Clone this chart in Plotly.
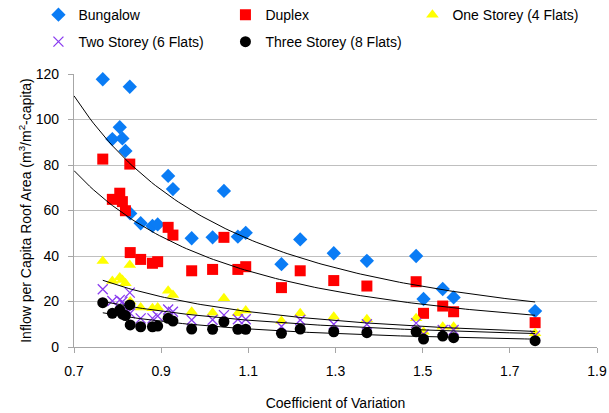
import numpy as np
import plotly.graph_objects as go

# Coefficient of variation for each location
cv = [0.766, 0.788, 0.805, 0.811, 0.818, 0.828, 0.829, 0.853, 0.880, 0.892, 0.916, 0.927, 0.970,
      1.018, 1.044, 1.076, 1.094, 1.176, 1.219, 1.296, 1.372, 1.485, 1.502, 1.546, 1.571, 1.758]

bungalow = [117.7, 91.4, 96.6, 91.7, 86.2, 114.4, 58.7, 54.4, 53.2, 53.9, 75.2, 69.4, 47.8,
            48.2, 68.6, 48.5, 50.2, 36.4, 47.3, 41.2, 37.9, 40.0, 21.1, 25.5, 21.8, 15.8]
duplex = [82.6, 64.9, 67.6, 63.9, 59.9, 80.4, 41.5, 38.5, 36.8, 37.5, 52.6, 49.2, 33.5,
          34.1, 48.2, 34.1, 35.3, 26.1, 33.5, 29.2, 26.8, 28.7, 14.8, 18.0, 15.5, 10.7]
one_storey = [37.8, 29.0, 30.6, 29.5, 28.0, 36.0, 20.0, 17.4, 17.0, 17.4, 24.7, 22.9, 15.5,
              15.1, 21.4, 14.8, 16.0, 11.4, 14.8, 13.3, 12.2, 12.6, 6.7, 8.9, 8.9, 6.0]
two_storey = [25.4, 20.2, 20.7, 19.9, 18.0, 23.9, 14.8, 12.6, 12.6, 13.6, 16.5, 15.5, 11.9,
              12.0, 14.0, 12.2, 12.2, 9.0, 11.9, 10.0, 10.0, 10.5, 5.5, 7.5, 7.5, 5.0]
three_storey = [19.5, 14.8, 16.3, 14.5, 13.8, 18.5, 9.7, 8.9, 8.9, 9.2, 12.6, 11.4, 7.9,
                7.8, 11.1, 7.8, 7.8, 6.0, 7.9, 6.7, 6.3, 6.7, 3.5, 4.8, 4.1, 2.8]

names = ["Bungalow", "Duplex", "One Storey (4 Flats)", "Two Storey (6 Flats)", "Three Storey (8 Flats)"]
x_ticks = [0.7, 0.9, 1.1, 1.3, 1.5, 1.7, 1.9]
y_ticks = [0, 20, 40, 60, 80, 100, 120]

FONT = "Liberation Sans, Arial, sans-serif"

series = [
    (bungalow, dict(symbol="diamond", color="#0A7CF5", size=11), "legend", 0.7),
    (duplex, dict(symbol="square", color="#FF0000", size=11), "legend", 0.7),
    (one_storey, dict(symbol="triangle-up", color="#FFFF00", size=11), "legend", None),
    (two_storey, dict(symbol="x-thin", color="#8A3CF0", size=10, line=dict(width=1.3, color="#8A3CF0")), "legend2", None),
    (three_storey, dict(symbol="circle", color="#000000", size=11), "legend2", None),
]

fig = go.Figure()
cvx = np.array(cv)
for (vals, marker, leg, xstart), name in zip(series, names):
    fig.add_trace(go.Scatter(x=cv, y=vals, mode="markers", name=name, marker=marker,
                             legend=leg, cliponaxis=False))

# power trendlines (Excel-style: fit in log space)
for (vals, marker, leg, xstart), name in zip(series, names):
    b, lna = np.polyfit(np.log(cvx), np.log(np.array(vals)), 1)
    x0 = xstart if xstart is not None else cvx.min()
    xs = np.linspace(x0, cvx.max(), 120)
    fig.add_trace(go.Scatter(x=xs, y=np.exp(lna) * xs ** b, mode="lines",
                             line=dict(color="#000000", width=1), showlegend=False,
                             hoverinfo="skip"))

axis_common = dict(showline=True, linecolor="#A6A6A6", linewidth=1.3, ticks="outside",
                   ticklen=5, tickcolor="#A6A6A6", tickfont=dict(family=FONT, size=14, color="#000"),
                   zeroline=False, mirror=False)

fig.update_layout(
    width=609, height=413,
    margin=dict(l=74, r=12, t=74, b=66, autoexpand=False),
    paper_bgcolor="white", plot_bgcolor="white",
    font=dict(family=FONT, size=14, color="#000"),
    xaxis=dict(range=[0.7, 1.9], tickvals=x_ticks, ticktext=[f"{v:.1f}" for v in x_ticks],
               showgrid=False, ticklabelstandoff=6,
               title=dict(text="Coefficient of Variation", font=dict(family=FONT, size=14), standoff=20),
               **axis_common),
    yaxis=dict(range=[0, 120], tickvals=y_ticks, showgrid=True, gridcolor="#BFBFBF", gridwidth=1.3,
               ticklabelstandoff=6,
               title=dict(text="Inflow per Capita Roof Area (m<sup>3</sup>/m<sup>2</sup>-capita)",
                          font=dict(family=FONT, size=14), standoff=0),
               **axis_common),
    legend=dict(orientation="h", x=-0.068, xanchor="left", y=1.216, yanchor="middle",
                entrywidth=142, entrywidthmode="pixels", font=dict(family=FONT, size=14),
                bgcolor="rgba(0,0,0,0)", itemwidth=30, tracegroupgap=0),
    legend2=dict(orientation="h", x=-0.068, xanchor="left", y=1.117, yanchor="middle",
                 entrywidth=142, entrywidthmode="pixels", font=dict(family=FONT, size=14),
                 bgcolor="rgba(0,0,0,0)", itemwidth=30, tracegroupgap=0),
)

fig.write_html("out.html")
